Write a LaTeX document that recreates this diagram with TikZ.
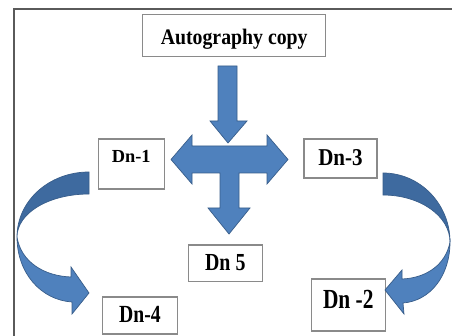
\documentclass[tikz,border=0pt]{standalone}
\usepackage{fontspec}
\usepackage{graphicx}
\setmainfont{Liberation Serif}
\definecolor{arrowblue}{HTML}{4F81BD}
\definecolor{arrowdark}{HTML}{3E6A9F}
\definecolor{arrowline}{HTML}{385D8A}
\definecolor{boxline}{HTML}{8A8A8A}
\definecolor{frameline}{HTML}{5A5A5A}
\newcommand\stxt[3]{\scalebox{1}[#2]{\fontsize{#1}{#1}\selectfont\bfseries #3}}
\tikzset{
  box/.style={draw=boxline, line width=1.1pt, fill=white, inner sep=0pt, text height=20pt},
  blockarrow/.style={fill=arrowblue, draw=arrowline, line width=0.7pt, line join=miter},
  backband/.style={fill=arrowdark, draw=arrowline, line width=0.7pt, line join=miter},
}
\begin{document}
\begin{tikzpicture}[x=1pt,y=-1pt]
\useasboundingbox (0,0) rectangle (452,336);
\clip (0,0) rectangle (452,336);
\fill[white] (0,0) rectangle (452,336);
% outer frame
\draw[frameline, line width=2pt] (14,9) rectangle (480,380);

% boxes
\node[box, minimum width=183pt, minimum height=42pt, text depth=1.4pt] (auto) at (234.2,35.7) {\stxt{19.8}{1.12}{Autography copy}};
\node[box, minimum width=65.7pt, minimum height=50pt, text depth=22.6pt] (d1) at (131.2,164) {\stxt{18.4}{1.0}{Dn-1}};
\node[box, minimum width=73pt, minimum height=39pt, text depth=5pt] (d3) at (340.5,158.5) {\stxt{21}{1.15}{Dn-3}};
\node[box, minimum width=74pt, minimum height=36.7pt, text depth=5pt] (d5) at (225.3,263.4) {\stxt{19.9}{1.23}{Dn 5}};
\node[box, minimum width=74.6pt, minimum height=37pt, text depth=5pt] (d4) at (140,315.5) {\stxt{19.7}{1.25}{Dn-4}};
\node[box, minimum width=74pt, minimum height=52pt, text depth=13.4pt] (d2) at (348.3,305) {\stxt{21.4}{1.29}{Dn -2}};

% down arrow
\draw[blockarrow] (218,66) -- (237,66) -- (237,121) -- (247,121) -- (228,143) -- (210,121) -- (218,121) -- cycle;

% three-way arrow
\draw[blockarrow] (171,159.5) -- (192,135) -- (192,146) -- (267,146) -- (267,135) -- (288,159.5)
  -- (267,184) -- (267,173) -- (239,173) -- (239,208) -- (250,208) -- (229,234) -- (208,208)
  -- (220,208) -- (220,173) -- (192,173) -- (192,184) -- cycle;

% left curved arrow
\draw[backband] (89,172) .. controls (49,172) and (17,201) .. (17,237)
  .. controls (17,213) and (49,194) .. (89,194) -- cycle;
\draw[blockarrow] (17,237) .. controls (17,273) and (41,300) .. (72,302) -- (72,314) -- (89,293)
  -- (71,267) -- (71,277) .. controls (44,276) and (21,262) .. (17,237) -- cycle;

% right curved arrow
\draw[backband] (383,173) .. controls (420,173) and (450,204) .. (450,242)
  .. controls (450,216) and (420,195) .. (383,195) -- cycle;
\draw[blockarrow] (450,242) .. controls (450,276) and (430,301) .. (403,303) -- (404,314) -- (385,290)
  -- (402,270) -- (402,279) .. controls (427,278) and (446,264) .. (450,242) -- cycle;
\end{tikzpicture}
\end{document}
